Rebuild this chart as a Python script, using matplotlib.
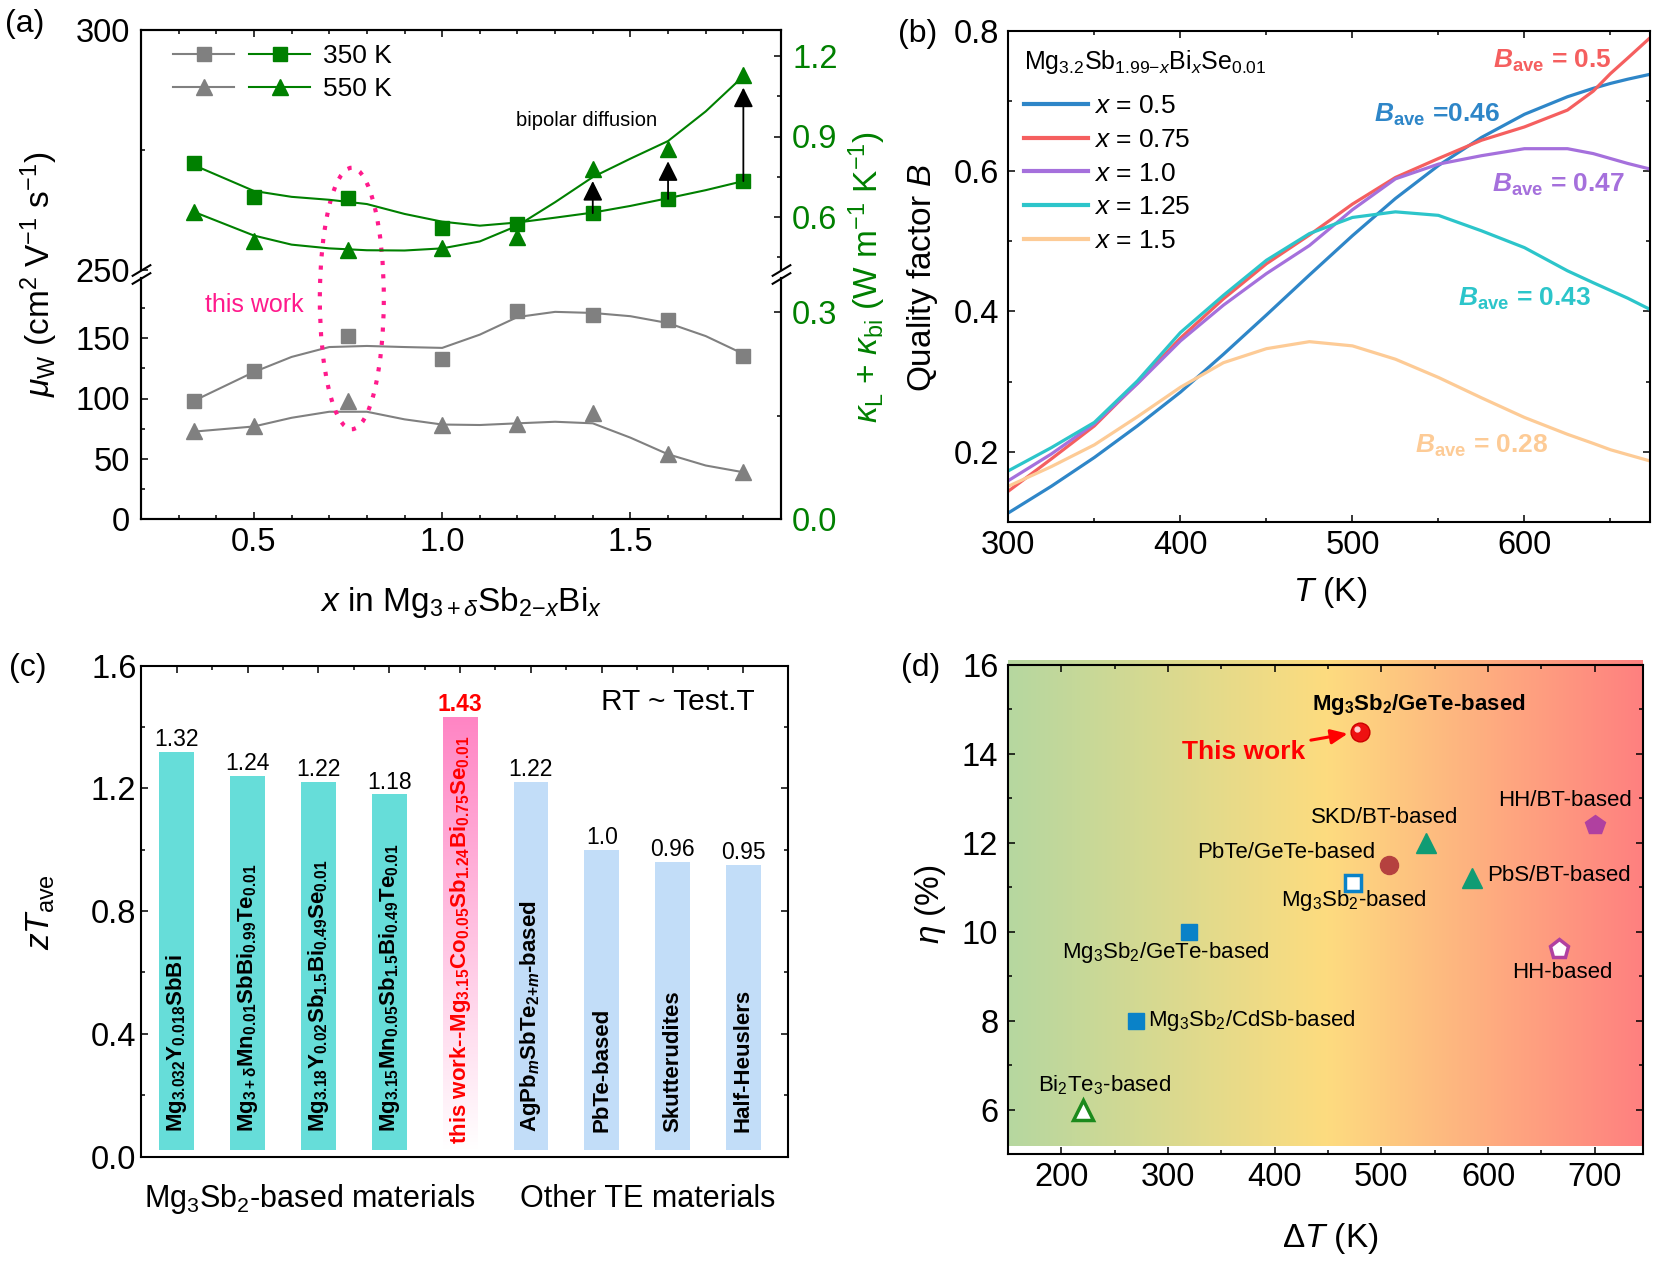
import numpy as np
import matplotlib
matplotlib.use('Agg')
import matplotlib.pyplot as plt
from matplotlib.lines import Line2D
from matplotlib.patches import Ellipse
from matplotlib.legend_handler import HandlerTuple
from matplotlib.colors import LinearSegmentedColormap
from matplotlib.ticker import MultipleLocator, FixedLocator
from matplotlib.transforms import offset_copy, blended_transform_factory

plt.rcParams['font.family'] = ['Liberation Sans', 'DejaVu Sans']
plt.rcParams['mathtext.fontset'] = 'custom'
plt.rcParams['mathtext.rm'] = 'Liberation Sans'
plt.rcParams['mathtext.it'] = 'Liberation Sans:italic'
plt.rcParams['mathtext.bf'] = 'Liberation Sans:bold'
plt.rcParams['mathtext.bfit'] = 'Liberation Sans:bold:italic'
plt.rcParams['xtick.direction'] = 'in'
plt.rcParams['ytick.direction'] = 'in'
plt.rcParams['xtick.major.size'] = 5
plt.rcParams['ytick.major.size'] = 5
plt.rcParams['xtick.minor.size'] = 3
plt.rcParams['ytick.minor.size'] = 3
plt.rcParams['xtick.major.width'] = 1.1
plt.rcParams['ytick.major.width'] = 1.1
plt.rcParams['xtick.minor.width'] = 1.1
plt.rcParams['ytick.minor.width'] = 1.1
plt.rcParams['axes.linewidth'] = 1.5
plt.rcParams['xtick.labelsize'] = 23.5
plt.rcParams['ytick.labelsize'] = 23.5

# ---------------- (a) data ----------------
x_a = [0.34, 0.5, 0.75, 1.0, 1.2, 1.4, 1.6, 1.8]
mu_350 = [98, 123, 152, 133, 173, 169, 165, 135]
mu_550 = [73, 77, 98, 78, 79, 88, 54, 39]
kap_350 = [0.80, 0.674, 0.669, 0.556, 0.571, 0.613, 0.666, 0.733]
kap_550 = [0.618, 0.507, 0.475, 0.481, 0.525, 0.780, 0.854, 1.130]
# smooth guide lines
x_fit = [0.34, 0.5, 0.6, 0.7, 0.8, 0.9, 1.0, 1.1, 1.2, 1.3, 1.4, 1.5, 1.6, 1.7, 1.8]
mu_350_fit = [98, 122, 134.5, 142.7, 143.6, 142.7, 142, 153, 167.6, 171.9, 171, 168.3, 162.6, 151.8, 137]
mu_550_fit = [72.5, 76.8, 84, 89, 89, 82.7, 78.4, 78, 79.4, 80.7, 79.4, 67.5, 53.7, 44.4, 38.8]
kap_350_fit = [0.793, 0.696, 0.674, 0.663, 0.647, 0.610, 0.581, 0.566, 0.578, 0.596, 0.615, 0.640, 0.669, 0.699, 0.733]
kap_550_fit = [0.618, 0.529, 0.495, 0.481, 0.474, 0.473, 0.481, 0.507, 0.566, 0.654, 0.748, 0.817, 0.883, 0.994, 1.126]
x_bipolar = [1.4, 1.6, 1.8]

# ---------------- (b) data ----------------
T_b = [300, 325, 350, 375, 400, 425, 450, 475, 500, 525, 550, 575, 600, 625, 640, 650, 660, 673]
B_05 = [0.113, 0.151, 0.192, 0.237, 0.285, 0.339, 0.395, 0.452, 0.508, 0.561, 0.608, 0.648, 0.681, 0.706, 0.718, 0.725, 0.731, 0.738]
B_075 = [0.144, 0.190, 0.237, 0.298, 0.362, 0.418, 0.468, 0.509, 0.553, 0.591, 0.618, 0.644, 0.663, 0.687, 0.714, 0.739, 0.761, 0.790]
B_10 = [0.159, 0.197, 0.240, 0.297, 0.358, 0.409, 0.454, 0.494, 0.545, 0.589, 0.610, 0.622, 0.632, 0.632, 0.625, 0.618, 0.611, 0.603]
B_125 = [0.173, 0.206, 0.242, 0.301, 0.370, 0.423, 0.473, 0.511, 0.534, 0.542, 0.537, 0.515, 0.491, 0.458, 0.441, 0.430, 0.419, 0.403]
B_15 = [0.151, 0.179, 0.210, 0.250, 0.292, 0.327, 0.347, 0.357, 0.351, 0.332, 0.306, 0.277, 0.249, 0.225, 0.212, 0.203, 0.196, 0.187]
b_series = [B_05, B_075, B_10, B_125, B_15]
b_labels = ['0.5', '0.75', '1.0', '1.25', '1.5']
b_colors = ['#2E86C8', '#F55F5F', '#A570DC', '#2CC5CA', '#FDCB96']
b_ave = ['=0.46', '= 0.5', '= 0.47', '= 0.43', '= 0.28']

# ---------------- (c) data ----------------
zt_ave = [1.32, 1.24, 1.22, 1.18, 1.43, 1.22, 1.0, 0.96, 0.95]
zt_text = ['1.32', '1.24', '1.22', '1.18', '1.43', '1.22', '1.0', '0.96', '0.95']
materials = [
    r'Mg$_{\mathbf{3.032}}$Y$_{\mathbf{0.018}}$SbBi',
    r'Mg$_{\mathbf{3+\delta}}$Mn$_{\mathbf{0.01}}$SbBi$_{\mathbf{0.99}}$Te$_{\mathbf{0.01}}$',
    r'Mg$_{\mathbf{3.18}}$Y$_{\mathbf{0.02}}$Sb$_{\mathbf{1.5}}$Bi$_{\mathbf{0.49}}$Se$_{\mathbf{0.01}}$',
    r'Mg$_{\mathbf{3.15}}$Mn$_{\mathbf{0.05}}$Sb$_{\mathbf{1.5}}$Bi$_{\mathbf{0.49}}$Te$_{\mathbf{0.01}}$',
    r'this work--Mg$_{\mathbf{3.15}}$Co$_{\mathbf{0.05}}$Sb$_{\mathbf{1.24}}$Bi$_{\mathbf{0.75}}$Se$_{\mathbf{0.01}}$',
    r'AgPb$_{\mathbfit{m}}$SbTe$_{\mathbf{2{+}}\mathbfit{m}}$-based',
    'PbTe-based',
    'Skutterudites',
    'Half-Heuslers',
]
group = ['mg', 'mg', 'mg', 'mg', 'this', 'other', 'other', 'other', 'other']

# ---------------- (d) data ----------------
dT = [480, 507, 542, 585, 700, 667, 473, 320, 270, 220]
eta = [14.5, 11.5, 12.0, 11.2, 12.4, 9.6, 11.1, 10.0, 8.0, 6.0]
d_names = [r'This work', 'PbTe/GeTe-based', 'SKD/BT-based', 'PbS/BT-based', 'HH/BT-based',
           'HH-based', r'Mg$_3$Sb$_2$-based', r'Mg$_3$Sb$_2$/GeTe-based',
           r'Mg$_3$Sb$_2$/CdSb-based', r'Bi$_2$Te$_3$-based']

W, H = 1660, 1268
fig = plt.figure(figsize=(W / 100, H / 100), dpi=100)


def box(l, t, r, b):
    return [l / W, 1 - b / H, (r - l) / W, (b - t) / H]


# ================= (a) =================
gray, green = '#808080', '#008000'
ax_up = fig.add_axes(box(141, 29.7, 781, 270))
ax_lo = fig.add_axes(box(141, 278, 781, 519))
ax_up.set_facecolor('none')
ax_up_r = ax_up.twinx()
ax_lo_r = ax_lo.twinx()

for a in (ax_up, ax_lo):
    a.set_xlim(0.2, 1.9)
    a.xaxis.set_major_locator(MultipleLocator(0.5))
    a.xaxis.set_minor_locator(MultipleLocator(0.1))
ax_up.set_ylim(250, 300)
ax_up.yaxis.set_major_locator(FixedLocator([250, 300]))
ax_up.yaxis.set_minor_locator(FixedLocator([275]))
ax_lo.set_ylim(0, 200)
ax_lo.yaxis.set_major_locator(FixedLocator([0, 50, 100, 150]))
ax_lo.yaxis.set_minor_locator(FixedLocator([25, 75, 125, 175]))
ax_up_r.set_ylim(0.4, 1.3)
ax_up_r.yaxis.set_major_locator(FixedLocator([0.6, 0.9, 1.2]))
ax_up_r.yaxis.set_minor_locator(FixedLocator([0.45, 0.75, 1.05]))
ax_lo_r.set_ylim(0, 0.35)
ax_lo_r.yaxis.set_major_locator(FixedLocator([0.0, 0.3]))
ax_lo_r.yaxis.set_minor_locator(FixedLocator([0.15]))
for a in (ax_up_r, ax_lo_r):
    a.yaxis.set_major_formatter(plt.FuncFormatter(lambda v, p: f'{v:.1f}'))
    a.tick_params(axis='y', which='both', labelcolor=green, pad=8)
for a in (ax_up, ax_lo):
    a.tick_params(axis='y', which='both', pad=8)

ax_up.tick_params(axis='x', which='both', bottom=False, top=True, labelbottom=False)
ax_lo.tick_params(axis='x', which='both', bottom=True, top=False, pad=6)
for a in (ax_up, ax_up_r):
    a.spines['bottom'].set_visible(False)
for a in (ax_lo, ax_lo_r):
    a.spines['top'].set_visible(False)

brk = dict(marker=[(-1, -0.6), (1, 0.6)], markersize=14, linestyle='none',
           color='k', mec='k', mew=1.5, clip_on=False)
ax_up.plot([0, 1], [0, 0], transform=ax_up.transAxes, **brk)
ax_lo.plot([0, 1], [1, 1], transform=ax_lo.transAxes, **brk)

ax_lo.plot(x_fit, mu_350_fit, color=gray, lw=1.5)
ax_lo.plot(x_fit, mu_550_fit, color=gray, lw=1.5)
ax_lo.plot(x_a, mu_350, 's', color=gray, ms=9.5)
ax_lo.plot(x_a, mu_550, '^', color=gray, ms=11)
ax_up_r.plot(x_fit, kap_350_fit, color=green, lw=1.5)
ax_up_r.plot(x_fit, kap_550_fit, color=green, lw=1.5)
ax_up_r.plot(x_a, kap_350, 's', color=green, ms=9.5)
ax_up_r.plot(x_a, kap_550, '^', color=green, ms=11)

for i, xv in enumerate(x_a):
    if xv in x_bipolar:
        ax_up_r.annotate('', xy=(xv, kap_550[i]), xytext=(xv, kap_350[i]),
                         arrowprops=dict(arrowstyle='-|>,head_length=0.6,head_width=0.3',
                                         color='k', lw=1.3, shrinkA=0, shrinkB=9,
                                         mutation_scale=20))
ax_up_r.text(1.384, 0.96, 'bipolar diffusion', fontsize=14.5, ha='center', va='center')

ell = Ellipse((0.76, 183), 0.17, 217, fill=False, ec='#FF1A8C', ls=(0, (1, 2.2)),
              lw=3, clip_on=False, zorder=5)
ax_lo.add_patch(ell)
ax_lo.text(0.5, 178, 'this work', color='#FF1A8C', fontsize=18, ha='center', va='center')

h350 = (Line2D([], [], color=gray, marker='s', ms=9.5, lw=1.5),
        Line2D([], [], color=green, marker='s', ms=9.5, lw=1.5))
h550 = (Line2D([], [], color=gray, marker='^', ms=11, lw=1.5),
        Line2D([], [], color=green, marker='^', ms=11, lw=1.5))
ax_up.legend([h350, h550], ['350 K', '550 K'],
             handler_map={tuple: HandlerTuple(ndivide=None, pad=0.55)},
             handlelength=5.2, handletextpad=0.5, labelspacing=0.33,
             frameon=False, fontsize=19, loc='upper left',
             bbox_to_anchor=(0.05, 0.94), borderpad=0, borderaxespad=0)

fig.text(461 / W, 1 - 603 / H, r'$x$ in Mg$_{3+\delta}$Sb$_{2{-}x}$Bi$_{x}$',
         fontsize=24, ha='center', va='center')
fig.text(39 / W, 1 - 274 / H, r'$\mu_{\mathrm{W}}$ (cm$^{2}$ V$^{-1}$ s$^{-1}$)',
         fontsize=24, ha='center', va='center', rotation=90)
fig.text(867 / W, 1 - 277 / H, r'$\kappa_{\mathrm{L}}$ + $\kappa_{\mathrm{bi}}$ (W m$^{-1}$ K$^{-1}$)',
         fontsize=24, ha='center', va='center', rotation=90, color=green)

# ================= (b) =================
ax_b = fig.add_axes(box(1008.4, 30.8, 1650, 522))
for ys, lab, col in zip(b_series, b_labels, b_colors):
    ax_b.plot(T_b, ys, color=col, lw=2.3, label=rf'$x$ = {lab}')
ax_b.set_xlim(300, 673)
ax_b.set_ylim(0.1, 0.8)
ax_b.xaxis.set_major_locator(MultipleLocator(100))
ax_b.xaxis.set_minor_locator(MultipleLocator(50))
ax_b.yaxis.set_major_locator(FixedLocator([0.2, 0.4, 0.6, 0.8]))
ax_b.yaxis.set_minor_locator(FixedLocator([0.1, 0.3, 0.5, 0.7]))
ax_b.tick_params(which='both', top=True, right=True)
ax_b.tick_params(axis='x', pad=6)
ax_b.tick_params(axis='y', pad=6.5)
leg = ax_b.legend(title=r'Mg$_{3.2}$Sb$_{1.99{-}x}$Bi$_{x}$Se$_{0.01}$', title_fontsize=18,
                  fontsize=19, frameon=False, loc='upper left', handlelength=2.45,
                  handletextpad=0.2, labelspacing=0.37, borderpad=0, borderaxespad=0,
                  bbox_to_anchor=(0.024, 0.965), alignment='left')
leg._legend_box.sep = 13
for ln in leg.get_lines():
    ln.set_linewidth(3)
# B_ave labels: order blue, red, purple, cyan, orange
b_pos = [(549, 0.68), (616, 0.757), (620, 0.58), (600, 0.418), (575, 0.209)]
for (tx, ty), col, s in zip(b_pos, b_colors, b_ave):
    ax_b.text(tx, ty, r'$\mathbfit{B}_{\mathbf{ave}}$ ' + s, color=col, fontsize=19,
              fontweight='bold', ha='center', va='center')
fig.text(1330 / W, 1 - 593 / H, r'$T$ (K)', fontsize=24, ha='center', va='center')
fig.text(922 / W, 1 - 277 / H, r'Quality factor $B$', fontsize=24, ha='center',
         va='center', rotation=90)

# ================= (c) =================
ax_c = fig.add_axes(box(141.3, 665.6, 788, 1156.6))
pos = np.arange(len(zt_ave))
bw = 0.49
base = 0.02
bar_col = {'mg': '#66DDD9', 'other': '#C2DDF8', 'this': 'none'}
ax_c.bar(pos, np.array(zt_ave) - base, bottom=base, width=bw,
         color=[bar_col[g] for g in group], zorder=1)
pink = LinearSegmentedColormap.from_list('pk', ['#FFFFFF', '#FF85C4'])
for i, g in enumerate(group):
    if g == 'this':
        ax_c.imshow(np.linspace(0, 1, 256)[:, None], cmap=pink, origin='lower',
                    extent=[pos[i] - bw / 2, pos[i] + bw / 2, base, zt_ave[i]],
                    aspect='auto', zorder=1)
for i, (v, s, m, g) in enumerate(zip(zt_ave, zt_text, materials, group)):
    if g == 'this':
        ax_c.text(i, v + 0.005, s, color='red', fontsize=16.5, fontweight='bold',
                  ha='center', va='bottom')
        ax_c.text(i, 0.04, m, color='red', fontsize=16, fontweight='bold',
                  rotation=90, ha='center', va='bottom')
    else:
        ax_c.text(i, v + 0.003, s, fontsize=16.5, ha='center', va='bottom')
        ax_c.text(i, 0.08, m, fontsize=16, fontweight='bold',
                  rotation=90, ha='center', va='bottom')
ax_c.set_xlim(-0.5, 8.63)
ax_c.set_ylim(0, 1.6)
ax_c.yaxis.set_major_locator(MultipleLocator(0.4))
ax_c.yaxis.set_minor_locator(MultipleLocator(0.2))
ax_c.xaxis.set_major_locator(FixedLocator(pos))
ax_c.xaxis.set_minor_locator(FixedLocator(pos[:-1] + 0.5))
ax_c.tick_params(axis='x', which='both', bottom=False, top=True, labelbottom=False)
ax_c.tick_params(axis='y', which='both', right=True, pad=3.5)
ax_c.yaxis.set_major_formatter(plt.FuncFormatter(lambda v, p: f'{v:.1f}'))
tr = blended_transform_factory(ax_c.transData, ax_c.transAxes)
ax_c.text(1.88, -0.086, r'Mg$_3$Sb$_2$-based materials', transform=tr, fontsize=22,
          ha='center', va='center')
ax_c.text(6.65, -0.086, 'Other TE materials', transform=tr, fontsize=22,
          ha='center', va='center')
ax_c.text(0.829, 0.926, 'RT ~ Test.T', transform=ax_c.transAxes, fontsize=21.5,
          ha='center', va='center')
fig.text(41 / W, 1 - 912 / H, r'$zT_{\mathrm{ave}}$', fontsize=24, ha='center',
         va='center', rotation=90)

# ================= (d) =================
ax_d = fig.add_axes(box(1008, 664.8, 1642.7, 1154))
bg = LinearSegmentedColormap.from_list('bg', ['#B6D7A0', '#FDDC7F', '#FF8080'])
ax_d.imshow(np.linspace(0, 1, 512)[None, :], cmap=bg, extent=[150, 745, 5.19, 16.1],
            aspect='auto', zorder=0, clip_on=False)
styles = [
    dict(marker='o', color='#EE1111', ms=13.5, mec='#CC0000'),
    dict(marker='o', color='#B5413F', ms=13),
    dict(marker='^', color='#109C74', ms=15),
    dict(marker='^', color='#109C74', ms=15),
    dict(marker='p', color='#B040A0', ms=15),
    dict(marker='p', color='#B040A0', ms=14, mfc='white', mew=2.5),
    dict(marker='s', color='#0A82C8', ms=11.5, mfc='white', mew=2.5),
    dict(marker='s', color='#0A82C8', ms=11.5),
    dict(marker='s', color='#0A82C8', ms=11.5),
    dict(marker='^', color='#1C8A1C', ms=15, mfc='white', mew=2.5),
]
for xv, yv, st in zip(dT, eta, styles):
    ax_d.plot(xv, yv, linestyle='none', zorder=3, **st)
hl = offset_copy(ax_d.transData, fig=fig, x=-3, y=3, units='dots')
ax_d.plot(dT[0], eta[0], 'o', color='#FFD0D0', ms=3.5, transform=hl, zorder=4)

lab_kw = dict(fontsize=16, ha='center', va='center')
ax_d.annotate(d_names[0], xy=(dT[0], eta[0]), xytext=(371, 14.04), color='red',
              fontsize=19, fontweight='bold', ha='center', va='center',
              arrowprops=dict(arrowstyle='-|>,head_length=0.5,head_width=0.22',
                              color='red', lw=2.2, shrinkA=2, shrinkB=9,
                              mutation_scale=20))
ax_d.text(535, 15.1, r'Mg$_{\mathbf{3}}$Sb$_{\mathbf{2}}$/GeTe-based', fontweight='bold', **lab_kw)
ax_d.text(411, 11.78, d_names[1], **lab_kw)
ax_d.text(503, 12.56, d_names[2], **lab_kw)
ax_d.text(599, 11.26, d_names[3], fontsize=16, ha='left', va='center')
ax_d.text(672, 12.95, d_names[4], **lab_kw)
ax_d.text(670, 9.07, d_names[5], **lab_kw)
ax_d.text(474.5, 10.7, d_names[6], **lab_kw)
ax_d.text(298, 9.54, d_names[7], **lab_kw)
ax_d.text(281, 8.01, d_names[8], fontsize=16, ha='left', va='center')
ax_d.text(241, 6.54, d_names[9], **lab_kw)

ax_d.set_xlim(150, 745)
ax_d.set_ylim(5, 16)
ax_d.xaxis.set_major_locator(MultipleLocator(100))
ax_d.xaxis.set_minor_locator(MultipleLocator(50))
ax_d.yaxis.set_major_locator(MultipleLocator(2))
ax_d.yaxis.set_minor_locator(MultipleLocator(1))
ax_d.tick_params(which='both', top=True, right=True)
ax_d.tick_params(axis='x', pad=6)
ax_d.tick_params(axis='y', pad=7)
fig.text(1330 / W, 1 - 1238.7 / H, r'$\Delta\mathit{T}$ (K)', fontsize=24,
         ha='center', va='center')
fig.text(930 / W, 1 - 904 / H, r'$\eta$ (%)', fontsize=24, ha='center',
         va='center', rotation=90)

# panel letters
for lab, (px, py) in zip(['(a)', '(b)', '(c)', '(d)'],
                         [(25, 23.7), (918, 33.6), (28, 668), (921, 668)]):
    fig.text(px / W, 1 - py / H, lab, fontsize=23, ha='center', va='center')

fig.savefig('out.png', dpi=100)
